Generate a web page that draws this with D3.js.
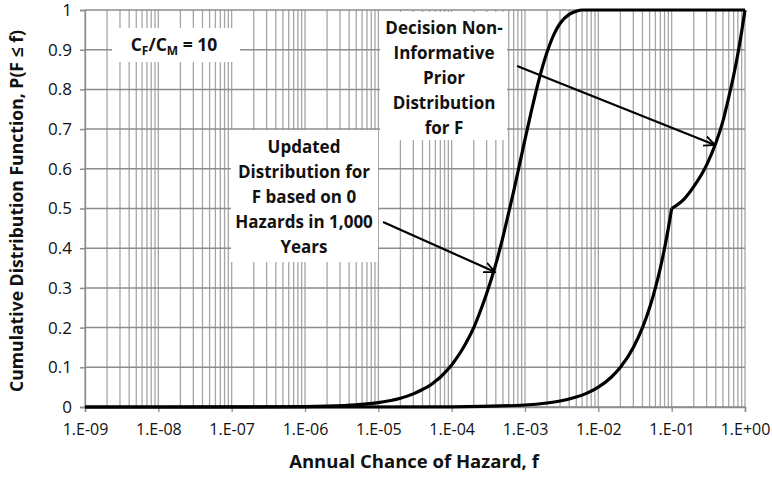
<!DOCTYPE html>
<html>
<head>
<meta charset="utf-8">
<script src="https://cdn.jsdelivr.net/npm/d3@7/dist/d3.min.js"></script>
<style>
  html, body { margin: 0; padding: 0; background: #fff; }
  svg { display: block; font-family: "Open Sans", Lato, sans-serif; }
</style>
</head>
<body>
<svg id="chart" width="772" height="479"></svg>
<script>
// Annual chance of hazard (f) and cumulative probability P(F <= f)
const updatedF = [1e-9, 1e-7, 1e-6, 2e-6, 5e-6, 1e-5, 2e-5, 3e-5, 4e-5, 5e-5, 6e-5, 7e-5, 8e-5,
                  1e-4, 1.2e-4, 1.5e-4, 2e-4, 2.5e-4, 3e-4, 4e-4, 5e-4, 6e-4, 7e-4, 8e-4,
                  1e-3, 1.2e-3, 1.5e-3, 2e-3, 2.5e-3, 3e-3, 4e-3, 5e-3, 6e-3, 1];
const updatedP = [0, 0.0001, 0.0011, 0.0022, 0.0056, 0.011, 0.022, 0.033, 0.044, 0.054, 0.065, 0.075, 0.086,
                  0.106, 0.126, 0.155, 0.2, 0.245, 0.286, 0.36, 0.428, 0.49, 0.543, 0.592,
                  0.674, 0.739, 0.814, 0.894, 0.94, 0.966, 0.989, 0.997, 1, 1];

const priorF = [1e-9, 1e-6, 1e-4, 1e-3, 2e-3, 3e-3, 5e-3, 7e-3, 1e-2, 1.5e-2, 2e-2, 3e-2, 4e-2,
                5e-2, 6e-2, 7e-2, 8e-2, 9e-2, 0.1, 0.15, 0.2, 0.3, 0.4, 0.5, 0.6, 0.7, 0.8, 0.9, 1];
const priorP = [0, 0, 0.0005, 0.005, 0.01, 0.015, 0.025, 0.035, 0.05, 0.075, 0.1, 0.15, 0.2,
                0.25, 0.3, 0.35, 0.4, 0.45, 0.5, 0.525, 0.555, 0.61, 0.665, 0.72, 0.78, 0.835, 0.89, 0.945, 1];
// the prior has a corner where its density changes
const priorBreak = 0.1;

const xTickValues = [1e-9, 1e-8, 1e-7, 1e-6, 1e-5, 1e-4, 1e-3, 1e-2, 1e-1, 1];
const xTickLabels = ["1.E-09", "1.E-08", "1.E-07", "1.E-06", "1.E-05", "1.E-04", "1.E-03", "1.E-02", "1.E-01", "1.E+00"];
const yTickValues = [0, 0.1, 0.2, 0.3, 0.4, 0.5, 0.6, 0.7, 0.8, 0.9, 1];
const yTickLabels = ["0", "0.1", "0.2", "0.3", "0.4", "0.5", "0.6", "0.7", "0.8", "0.9", "1"];

const margin = { left: 85, right: 27, top: 10, bottom: 72 };
const W = 772, H = 479;
const svg = d3.select("#chart");
const x = d3.scaleLog().domain([1e-9, 1]).range([margin.left, W - margin.right]);
const y = d3.scaleLinear().domain([0, 1]).range([H - margin.bottom, margin.top]);
const textColor = "#111";

// gridlines
const minor = [];
for (let k = -9; k < 0; k++) for (let m = 1; m <= 9; m++) minor.push(m * Math.pow(10, k));
minor.push(1);
const grid = svg.append("g");
grid.selectAll("line.v").data(minor).join("line")
  .attr("x1", d => x(d)).attr("x2", d => x(d))
  .attr("y1", y(0)).attr("y2", y(1))
  .attr("stroke", "#a6a6a6").attr("stroke-width", 1.3);
grid.selectAll("line.h").data(yTickValues).join("line")
  .attr("x1", x(1e-9)).attr("x2", x(1))
  .attr("y1", d => y(d)).attr("y2", d => y(d))
  .attr("stroke", "#8c8c8c").attr("stroke-width", 1.5);

// axes
const xAxis = d3.axisBottom(x).tickValues(xTickValues).tickFormat((d, i) => xTickLabels[i])
  .tickSize(5).tickPadding(12);
const gx = svg.append("g").attr("transform", `translate(0,${y(0)})`).call(xAxis);
gx.select(".domain").attr("stroke", "#8c8c8c").attr("stroke-width", 1.5);
gx.selectAll(".tick line").attr("stroke", "#8c8c8c").attr("stroke-width", 1.3);
gx.selectAll(".tick text").attr("font-size", 16).attr("fill", textColor).attr("font-family", "'Open Sans', sans-serif");

const yAxis = d3.axisLeft(y).tickValues(yTickValues).tickFormat((d, i) => yTickLabels[i])
  .tickSize(5).tickPadding(8);
const gy = svg.append("g").attr("transform", `translate(${x(1e-9)},0)`).call(yAxis);
gy.select(".domain").attr("stroke", "#8c8c8c").attr("stroke-width", 1.3);
gy.selectAll(".tick line").attr("stroke", "#8c8c8c").attr("stroke-width", 1.5);
gy.selectAll(".tick text").attr("font-size", 17).attr("fill", textColor).attr("font-family", "'Open Sans', sans-serif");

// axis titles
svg.append("text").attr("x", 414).attr("y", 468).attr("text-anchor", "middle")
  .attr("font-size", 18.5).attr("font-weight", "bold").attr("fill", textColor)
  .text("Annual Chance of Hazard, f");
svg.append("text").attr("transform", "translate(23,211) rotate(-90)").attr("text-anchor", "middle")
  .attr("font-size", 17.6).attr("font-weight", "bold").attr("fill", textColor)
  .text("Cumulative Distribution Function, P(F \u2264 f)");

// annotation boxes with white backgrounds
function labelBox(x0, y0, x1, y1, lines, cx, firstY, lh) {
  svg.append("rect").attr("x", x0).attr("y", y0).attr("width", x1 - x0).attr("height", y1 - y0).attr("fill", "#fff");
  const t = svg.append("text").attr("text-anchor", "middle").attr("font-size", 17)
    .attr("font-weight", "bold").attr("fill", textColor);
  lines.forEach((s, i) => t.append("tspan").attr("x", cx).attr("y", firstY + i * lh).text(s));
}
labelBox(380, 12, 507, 140, ["Decision Non-", "Informative", "Prior", "Distribution", "for F"], 444, 34, 25);
labelBox(231, 130, 378, 262, ["Updated", "Distribution for", "F based on 0", "Hazards in 1,000", "Years"], 304, 153, 25);

svg.append("rect").attr("x", 112).attr("y", 28).attr("width", 128).attr("height", 34).attr("fill", "#fff");
const ratio = svg.append("text").attr("x", 174).attr("y", 51).attr("text-anchor", "middle")
  .attr("font-size", 17.5).attr("font-weight", "bold").attr("fill", textColor);
ratio.append("tspan").text("C");
ratio.append("tspan").attr("font-size", 12).attr("dy", 4).text("F");
ratio.append("tspan").attr("dy", -4).text("/C");
ratio.append("tspan").attr("font-size", 12).attr("dy", 4).text("M");
ratio.append("tspan").attr("dy", -4).text(" = 10");

// curves
const line = d3.line().x(d => x(d[0])).y(d => y(d[1])).curve(d3.curveMonotoneX);
const updated = updatedF.map((f, i) => [f, updatedP[i]]);
const prior = priorF.map((f, i) => [f, priorP[i]]);
const priorLow = prior.filter(d => d[0] <= priorBreak);
const priorHigh = prior.filter(d => d[0] >= priorBreak);
[updated, priorLow, priorHigh].forEach(seg => {
  svg.append("path").attr("d", line(seg)).attr("fill", "none")
    .attr("stroke", "#000").attr("stroke-width", 3.2).attr("stroke-linejoin", "round");
});

// leader arrows from the labels to the curves
svg.append("defs").append("marker").attr("id", "arrowhead")
  .attr("viewBox", "0 -6 12 12").attr("refX", 11).attr("refY", 0)
  .attr("markerWidth", 12).attr("markerHeight", 12).attr("markerUnits", "userSpaceOnUse")
  .attr("orient", "auto")
  .append("path").attr("d", "M0,-5L11,0L0,5").attr("fill", "none")
  .attr("stroke", "#000").attr("stroke-width", 1.8);
const arrows = [
  { from: [7.8e-4, 0.859], to: [0.39, 0.66] },
  { from: [1.16e-5, 0.466], to: [3.9e-4, 0.34] }
];
arrows.forEach(a => {
  svg.append("line")
    .attr("x1", x(a.from[0])).attr("y1", y(a.from[1]))
    .attr("x2", x(a.to[0])).attr("y2", y(a.to[1]))
    .attr("stroke", "#000").attr("stroke-width", 2.2).attr("marker-end", "url(#arrowhead)");
});
</script>
</body>
</html>
